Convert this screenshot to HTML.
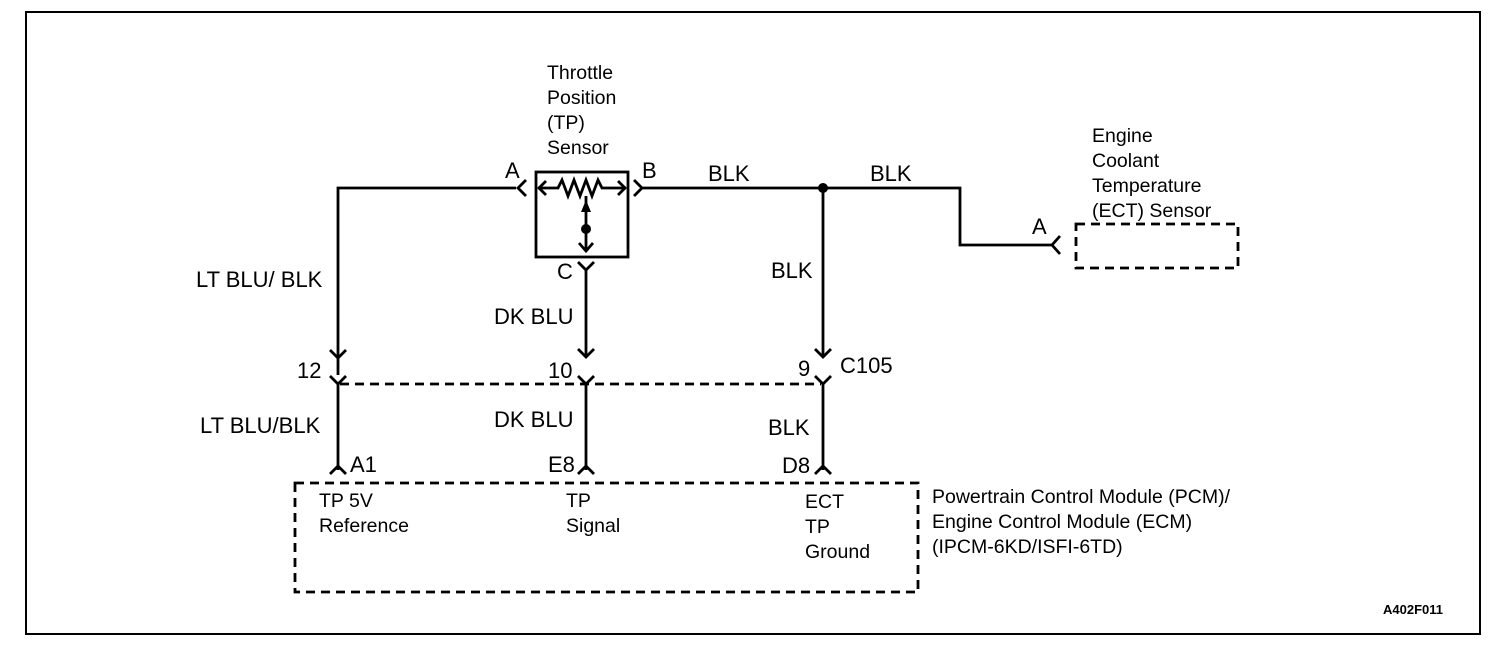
<!DOCTYPE html>
<html><head><meta charset="utf-8"><style>
html,body{margin:0;padding:0;background:#fff;}
svg{display:block;}
text{font-family:"Liberation Sans",Arial,sans-serif;font-size:19.5px;fill:#000;}
.w{font-size:22px;}
</style></head><body>
<svg width="1504" height="652" viewBox="0 0 1504 652" xmlns="http://www.w3.org/2000/svg">
<rect x="26" y="12" width="1454" height="622" fill="none" stroke="#000" stroke-width="2"/>
<g stroke="#000" stroke-width="2.8" fill="none">
<polyline points="338,375 338,188 516,188"/>
<polyline points="526,180 518,188 526,196"/>
<rect x="536" y="172" width="92" height="85"/>
<polyline points="538,188 558,188 562,180 568,196 574,180 580,196 586,180 592,196 598,180 602,188 626,188"/>
<polyline points="546,181 539,188 546,195"/>
<polyline points="618,181 625,188 618,195"/>
<line x1="586" y1="196" x2="586" y2="250"/>
<polyline points="579,243 586,251 593,243"/>
<polyline points="634,180 642,188 634,196"/>
<polyline points="642,188 960,188 960,245 1052,245"/>
<polyline points="1060,236 1052,245 1060,254"/>
<polyline points="578,262 586,270 594,262"/>
<line x1="586" y1="270" x2="586" y2="357"/>
<line x1="823" y1="188" x2="823" y2="357"/>
<polyline points="330,350 338,358 346,350"/>
<polyline points="578,349 586,357 594,349"/>
<polyline points="815,349 823,357 831,349"/>
<polyline points="330,376 338,384 346,376"/>
<polyline points="578,376 586,384 594,376"/>
<polyline points="815,376 823,384 831,376"/>
<line x1="338" y1="384" x2="338" y2="470"/>
<line x1="586" y1="384" x2="586" y2="470"/>
<line x1="823" y1="384" x2="823" y2="470"/>
<polyline points="330,474 338,466 346,474"/>
<polyline points="578,474 586,466 594,474"/>
<polyline points="815,474 823,466 831,474"/>
</g>
<g stroke="#000" stroke-width="2.8" fill="none" stroke-dasharray="9,6">
<line x1="340" y1="384" x2="821" y2="384"/>
<rect x="295" y="483" width="623" height="109"/>
<rect x="1076" y="224" width="162" height="44"/>
</g>
<circle cx="823" cy="188" r="5" fill="#000"/>
<circle cx="586" cy="229" r="5" fill="#000"/>
<polygon points="586,200 581,212 591,212" fill="#000"/>
<text x="547" y="79">Throttle</text>
<text x="547" y="104">Position</text>
<text x="547" y="129">(TP)</text>
<text x="547" y="154">Sensor</text>
<text class="w" x="505" y="178">A</text>
<text class="w" x="642" y="178">B</text>
<text class="w" x="708" y="181">BLK</text>
<text class="w" x="870" y="181">BLK</text>
<text x="1092" y="142">Engine</text>
<text x="1092" y="167">Coolant</text>
<text x="1092" y="192">Temperature</text>
<text x="1092" y="217">(ECT) Sensor</text>
<text class="w" x="1032" y="234">A</text>
<text class="w" x="196" y="287">LT BLU/ BLK</text>
<text class="w" x="557" y="279">C</text>
<text class="w" x="771" y="278">BLK</text>
<text class="w" x="494" y="324">DK BLU</text>
<text class="w" x="297" y="378">12</text>
<text class="w" x="548" y="378">10</text>
<text class="w" x="798" y="376">9</text>
<text class="w" x="840" y="373">C105</text>
<text class="w" x="200" y="433">LT BLU/BLK</text>
<text class="w" x="494" y="427">DK BLU</text>
<text class="w" x="768" y="435">BLK</text>
<text class="w" x="350" y="472">A1</text>
<text class="w" x="548" y="472">E8</text>
<text class="w" x="782" y="473">D8</text>
<text x="319" y="507">TP 5V</text>
<text x="319" y="532">Reference</text>
<text x="566" y="507">TP</text>
<text x="566" y="532">Signal</text>
<text x="805" y="508">ECT</text>
<text x="805" y="533">TP</text>
<text x="805" y="558">Ground</text>
<text x="932" y="503">Powertrain Control Module (PCM)/</text>
<text x="932" y="528">Engine Control Module (ECM)</text>
<text x="932" y="553">(IPCM-6KD/ISFI-6TD)</text>
<text x="1383" y="614" style="font-size:13px;font-weight:bold">A402F011</text>
</svg>
</body></html>
